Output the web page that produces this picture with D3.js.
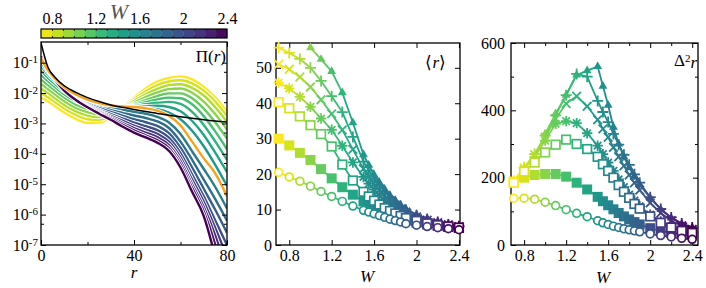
<!DOCTYPE html>
<html>
<head>
<meta charset="utf-8">
<script src="https://cdn.jsdelivr.net/npm/d3@7"></script>
<style>
  html, body { margin: 0; padding: 0; background: #fff; }
</style>
</head>
<body>
<svg id="chart" width="706" height="288"></svg>
<script>
// ---- panel 1: Pi(r) curves, log10 values ----
const piR = [0, 3, 6, 10, 15, 20, 25, 30, 35, 40, 45, 50, 55, 60, 65, 70, 75, 80];
const piW = [0.7, 0.8, 0.9, 1.0, 1.1, 1.2, 1.3, 1.4, 1.5, 1.6, 1.7, 1.8, 1.9, 2.0, 2.1, 2.2, 2.3, 2.4];
const piLog = [
  [-2.15, -2.27, -2.43, -2.64, -2.85, -2.98, -2.97, -2.8, -2.5, -2.15, -1.85, -1.62, -1.5, -1.45, -1.55, -1.8, -2.15, -2.62],
  [-2.0, -2.14, -2.3, -2.51, -2.72, -2.86, -2.88, -2.75, -2.5, -2.2, -1.94, -1.74, -1.62, -1.58, -1.68, -1.92, -2.28, -2.75],
  [-1.85, -2.0, -2.17, -2.39, -2.6, -2.74, -2.79, -2.7, -2.5, -2.26, -2.04, -1.86, -1.74, -1.71, -1.83, -2.08, -2.47, -2.95],
  [-1.7, -1.87, -2.04, -2.27, -2.49, -2.63, -2.7, -2.66, -2.51, -2.32, -2.13, -1.98, -1.87, -1.85, -1.99, -2.28, -2.7, -3.2],
  [-1.55, -1.74, -1.92, -2.15, -2.38, -2.52, -2.6, -2.6, -2.51, -2.37, -2.23, -2.1, -2.01, -2.01, -2.17, -2.51, -2.97, -3.5],
  [-1.4, -1.61, -1.8, -2.04, -2.27, -2.42, -2.51, -2.54, -2.49, -2.4, -2.3, -2.21, -2.15, -2.17, -2.37, -2.76, -3.27, -3.85],
  [-1.25, -1.5, -1.7, -1.95, -2.18, -2.33, -2.43, -2.48, -2.47, -2.43, -2.37, -2.32, -2.29, -2.36, -2.62, -3.05, -3.6, -4.2],
  [-1.1, -1.39, -1.61, -1.87, -2.1, -2.26, -2.37, -2.43, -2.45, -2.45, -2.43, -2.42, -2.46, -2.6, -2.92, -3.38, -3.97, -4.6],
  [-0.98, -1.31, -1.55, -1.83, -2.06, -2.23, -2.34, -2.42, -2.45, -2.47, -2.49, -2.53, -2.64, -2.86, -3.24, -3.75, -4.37, -5.05],
  [-0.85, -1.25, -1.52, -1.8, -2.05, -2.22, -2.33, -2.4, -2.44, -2.46, -2.5, -2.58, -2.75, -3.07, -3.6, -4.15, -4.65, -5.4],
  [-0.82, -1.24, -1.53, -1.84, -2.1, -2.28, -2.4, -2.48, -2.55, -2.62, -2.68, -2.78, -2.97, -3.35, -3.92, -4.5, -5.1, -5.8],
  [-0.82, -1.24, -1.54, -1.86, -2.13, -2.32, -2.46, -2.56, -2.65, -2.74, -2.82, -2.93, -3.15, -3.6, -4.2, -4.85, -5.5, -6.2],
  [-0.81, -1.24, -1.54, -1.87, -2.15, -2.35, -2.5, -2.62, -2.74, -2.86, -2.96, -3.08, -3.32, -3.8, -4.45, -5.15, -5.85, -6.6],
  [-0.81, -1.24, -1.55, -1.88, -2.17, -2.38, -2.55, -2.69, -2.83, -2.97, -3.09, -3.22, -3.47, -3.98, -4.68, -5.4, -6.2, -7.0],
  [-0.8, -1.24, -1.55, -1.89, -2.19, -2.41, -2.59, -2.75, -2.91, -3.07, -3.2, -3.34, -3.6, -4.12, -4.85, -5.58, -6.45, -7.4],
  [-0.8, -1.24, -1.55, -1.9, -2.2, -2.43, -2.62, -2.8, -2.98, -3.15, -3.3, -3.45, -3.71, -4.24, -5.0, -5.75, -6.7, -7.9],
  [-0.8, -1.24, -1.56, -1.91, -2.22, -2.45, -2.65, -2.84, -3.04, -3.23, -3.39, -3.55, -3.81, -4.35, -5.12, -5.9, -7.0, -8.5],
  [-0.8, -1.25, -1.56, -1.92, -2.23, -2.47, -2.68, -2.88, -3.1, -3.3, -3.46, -3.63, -3.9, -4.45, -5.25, -6.05, -7.4, -9.0]
];
const piHighlightW = 1.6;
const piBlackLog = [-0.35, -1.15, -1.48, -1.76, -1.98, -2.15, -2.28, -2.39, -2.47, -2.54, -2.61, -2.67, -2.73, -2.78, -2.83, -2.88, -2.92, -2.95];
const piDecades = [-7, -6, -5, -4, -3, -2, -1];

// ---- panels 2 and 3: <r> and variance vs W ----
const wGrid = [0.7, 0.8, 0.9, 1.0, 1.1, 1.2, 1.3, 1.4, 1.5, 1.55, 1.6, 1.65, 1.7, 1.75, 1.8, 1.85, 1.9, 2.0, 2.1, 2.2, 2.3, 2.4];

const meanTri    = [null, null, null, 55.7, 52.4, 49, 43, 34.5, 25.5, 22.5, 19.8, 17.6, 15.7, 14, 12.6, 11.3, 10.2, 8.6, 7.5, 6.6, 5.9, 5.4];
const meanPlus   = [55.7, 54.2, 52.5, 50, 46.3, 42, 37.5, 30.5, 23.5, 21, 18.8, 16.8, 15, 13.4, 12, 10.9, 9.9, 8.4, 7.3, 6.5, 5.8, 5.3];
const meanCross  = [51, 49.6, 47.4, 44.6, 41, 37, 32.5, 27, 21.5, 19.3, 17.3, 15.5, 13.9, 12.5, 11.3, 10.2, 9.3, 7.9, 7.0, 6.3, 5.7, 5.2];
const meanStar   = [45.8, 44.2, 41.8, 39, 35.7, 32.5, 28, 23.3, 19.2, 17.3, 15.6, 14, 12.6, 11.3, 10.2, 9.3, 8.5, 7.4, 6.6, 6.0, 5.5, 5.1];
const meanOpenSq = [40.3, 38.6, 36.3, 33.8, 31.3, 27.8, 22.7, 18.2, 15, 13.7, 12.5, 11.4, 10.4, 9.6, 8.9, 8.2, 7.6, 6.8, 6.1, 5.6, 5.2, 4.9];
const meanFillSq = [30, 28.1, 26, 24, 21.4, 18.8, 16.3, 14.2, 12.3, 11.4, 10.5, 9.7, 9, 8.4, 7.9, 7.4, 7.0, 6.3, 5.8, 5.4, 5.1, 4.8];
const meanCircle = [20.5, 19.2, 18, 16.6, 15.1, 13.7, 12.3, 11, 9.8, 9.3, 8.8, 8.3, 7.8, 7.3, 6.9, 6.5, 6.0, 5.6, 5.2, 4.9, 4.6, 4.3];

const varTri    = [null, null, null, 330, 390, 445, 505, 518, 530, 472, 415, 350, 300, 262, 230, 205, 180, 140, 106, 80, 63, 52];
const varPlus   = [190, 230, 270, 325, 385, 445, 508, 500, 428, 395, 365, 330, 298, 268, 238, 210, 185, 142, 107, 82, 64, 52];
const varCross  = [190, 228, 268, 320, 375, 420, 442, 412, 372, 345, 320, 290, 262, 235, 208, 185, 163, 125, 95, 72, 57, 46];
const varStar   = [190, 225, 262, 310, 360, 368, 362, 332, 295, 270, 245, 220, 195, 172, 150, 132, 115, 90, 70, 55, 45, 38];
const varOpenSq = [185, 218, 245, 275, 298, 313, 300, 285, 262, 240, 220, 200, 178, 158, 140, 122, 108, 85, 66, 52, 42, 36];
const varFillSq = [188, 200, 208, 211, 211, 203, 185, 165, 143, 130, 118, 106, 95, 85, 76, 68, 61, 50, 42, 36, 32, 29];
const varCircle = [139, 139, 136, 127, 117, 105, 94, 84, 72, 66, 61, 56, 52, 48, 45, 42, 39, 33, 28, 24, 20, 17];

const wTicks = [0.8, 1.2, 1.6, 2, 2.4];

const FONT = 'Liberation Serif';
const svg = d3.select('#chart');
const color = d3.scaleSequential(d3.interpolateViridis).domain([2.4, 0.7]);
const orange = '#f7a21b';

// frame with inward ticks on all four sides
function drawFrame(g, x, y, o) {
    const [xa, xb] = x.range();
    const [yb, ya] = y.range();
    const style = (sel) => {
        sel.select('.domain').remove();
        sel.attr('font-size', 16);
        sel.selectAll('line').attr('stroke', '#000').attr('stroke-width', 1);
    };
    g.append('g').attr('transform', `translate(0,${yb})`)
        .call(d3.axisBottom(x).tickValues(o.xTicks).tickFormat(o.xFmt).tickSizeInner(-5).tickSizeOuter(0).tickPadding(5)).call(style);
    g.append('g').attr('transform', `translate(0,${ya})`)
        .call(d3.axisTop(x).tickValues(o.xTicks).tickFormat('').tickSizeInner(-5).tickSizeOuter(0)).call(style);
    const left = g.append('g').attr('transform', `translate(${xa},0)`)
        .call(d3.axisLeft(y).tickValues(o.yTicks).tickFormat(o.yFmt).tickSizeInner(-5).tickSizeOuter(0).tickPadding(o.yPad)).call(style);
    g.append('g').attr('transform', `translate(${xb},0)`)
        .call(d3.axisRight(y).tickValues(o.yTicks).tickFormat('').tickSizeInner(-5).tickSizeOuter(0)).call(style);
    if (o.xMinor) {
        g.append('g').attr('transform', `translate(0,${yb})`)
            .call(d3.axisBottom(x).tickValues(o.xMinor).tickFormat('').tickSizeInner(-3).tickSizeOuter(0)).call(style);
        g.append('g').attr('transform', `translate(0,${ya})`)
            .call(d3.axisTop(x).tickValues(o.xMinor).tickFormat('').tickSizeInner(-3).tickSizeOuter(0)).call(style);
    }
    if (o.yMinor) {
        g.append('g').attr('transform', `translate(${xa},0)`)
            .call(d3.axisLeft(y).tickValues(o.yMinor).tickFormat('').tickSizeInner(-3).tickSizeOuter(0)).call(style);
        g.append('g').attr('transform', `translate(${xb},0)`)
            .call(d3.axisRight(y).tickValues(o.yMinor).tickFormat('').tickSizeInner(-3).tickSizeOuter(0)).call(style);
    }
    g.append('rect')
        .attr('x', xa).attr('y', ya).attr('width', xb - xa).attr('height', yb - ya)
        .attr('fill', 'none').attr('stroke', '#000').attr('stroke-width', 1.3);
    return left;
}

// ---------------- panel 1 ----------------
const x1 = d3.scaleLinear().domain([0, 80]).range([41, 227]);
const y1 = d3.scaleLog().domain([1e-7, Math.pow(10, -0.32)]).range([245, 42]);

svg.append('clipPath').attr('id', 'clip1')
    .append('rect').attr('x', 41).attr('y', 42).attr('width', 186).attr('height', 203);

const p1 = svg.append('g');
const curves = p1.append('g').attr('clip-path', 'url(#clip1)');
const piLine = d3.line()
    .x((d, i) => x1(piR[i]))
    .y((d) => y1(Math.pow(10, d)))
    .curve(d3.curveMonotoneX);

piW.forEach((w, k) => {
    if (w === piHighlightW) return;
    curves.append('path').attr('d', piLine(piLog[k]))
        .attr('fill', 'none').attr('stroke', '#fff').attr('stroke-width', 4.2);
    curves.append('path').attr('d', piLine(piLog[k]))
        .attr('fill', 'none').attr('stroke', color(w)).attr('stroke-width', 2.4);
});
const hk = piW.indexOf(piHighlightW);
curves.append('path').attr('d', piLine(piLog[hk]))
    .attr('fill', 'none').attr('stroke', '#fff').attr('stroke-width', 4.2);
curves.append('path').attr('d', piLine(piLog[hk]))
    .attr('fill', 'none').attr('stroke', orange).attr('stroke-width', 2.4);
curves.append('path').attr('d', piLine(piBlackLog))
    .attr('fill', 'none').attr('stroke', '#000').attr('stroke-width', 1.5);

const p1left = drawFrame(p1, x1, y1, {
    xTicks: [0, 40, 80], xFmt: d3.format('d'), xMinor: [20, 60],
    yTicks: piDecades.map((e) => Math.pow(10, e)), yFmt: () => '', yPad: 3,
    yMinor: piDecades.slice(0, 6).map((e) => 5 * Math.pow(10, e))
});
p1left.selectAll('.tick text').each(function (d) {
    const t = d3.select(this);
    t.append('tspan').text('10');
    t.append('tspan').attr('dy', '-0.45em').attr('font-size', 11).text(String(Math.round(Math.log10(d))));
});

p1.append('text').attr('x', 226).attr('y', 62).attr('text-anchor', 'end').attr('font-size', 17)
    .html('Π(<tspan font-style="italic">r</tspan>)');
p1.append('text').attr('x', 134).attr('y', 278).attr('text-anchor', 'middle')
    .attr('font-size', 17).attr('font-style', 'italic').text('r');

// colorbar
const cbX = d3.scaleLinear().domain([0.7, 2.4]).range([41, 227]);
const cb = svg.append('g');
const cbBlocks = piW.slice(0, piW.length - 1);
cb.selectAll('rect').data(cbBlocks).join('rect')
    .attr('x', (w) => cbX(w)).attr('y', 29)
    .attr('width', (w) => cbX(w + 0.1) - cbX(w) + 0.3).attr('height', 9)
    .attr('fill', (w) => color(w + 0.05));
const cbStyle = (sel) => {
    sel.select('.domain').remove();
    sel.attr('font-size', 16);
    sel.selectAll('line').attr('stroke', '#222').attr('stroke-width', 1);
};
cb.append('g').attr('transform', 'translate(0,29)')
    .call(d3.axisTop(cbX).tickValues(piW.slice(1, piW.length - 1)).tickFormat('').tickSizeInner(-2).tickSizeOuter(0)).call(cbStyle);
cb.append('g').attr('transform', 'translate(0,38)')
    .call(d3.axisBottom(cbX).tickValues(piW.slice(1, piW.length - 1)).tickFormat('').tickSizeInner(-2).tickSizeOuter(0)).call(cbStyle);
cb.append('g').attr('transform', 'translate(0,29)')
    .call(d3.axisTop(cbX).tickValues(wTicks).tickFormat(d3.format('')).tickSize(0).tickPadding(5)).call(cbStyle);
cb.append('rect').attr('x', 41).attr('y', 29).attr('width', 186).attr('height', 9)
    .attr('fill', 'none').attr('stroke', '#000').attr('stroke-width', 1.2);
cb.append('text').attr('x', 119).attr('y', 19).attr('text-anchor', 'middle')
    .attr('font-size', 22).attr('font-style', 'italic').attr('fill', '#555').text('W');

// ---------------- markers ----------------
function drawMarkers(sel, shape) {
    const c = (d) => color(d.w);
    if (shape === 'circle') {
        sel.append('circle').attr('r', 3.9).attr('fill', '#fff').attr('stroke', c).attr('stroke-width', 1.7);
    } else if (shape === 'openSquare') {
        sel.append('rect').attr('x', -4.3).attr('y', -4.3).attr('width', 8.6).attr('height', 8.6)
            .attr('fill', '#fff').attr('stroke', c).attr('stroke-width', 1.7);
    } else if (shape === 'fillSquare') {
        sel.append('rect').attr('x', -5).attr('y', -5).attr('width', 10).attr('height', 10).attr('fill', c);
    } else if (shape === 'triangle') {
        sel.append('path').attr('d', d3.symbol(d3.symbolTriangle, 34)).attr('fill', c);
    } else {
        const paths = {
            plus: 'M-5.5,0H5.5M0,-5.5V5.5',
            cross: 'M-4.3,-4.3L4.3,4.3M-4.3,4.3L4.3,-4.3',
            star: 'M-5.2,0H5.2M0,-5.2V5.2M-3.7,-3.7L3.7,3.7M-3.7,3.7L3.7,-3.7'
        };
        sel.append('path').attr('d', paths[shape]).attr('fill', 'none')
            .attr('stroke', c).attr('stroke-width', 1.8);
    }
}

function drawSeries(g, x, y, values, shape) {
    const pts = wGrid.map((w, i) => ({ w, v: values[i] })).filter((d) => d.v != null);
    const s = g.append('g');
    s.selectAll('line').data(d3.pairs(pts)).join('line')
        .attr('x1', (d) => x(d[0].w)).attr('y1', (d) => y(d[0].v))
        .attr('x2', (d) => x(d[1].w)).attr('y2', (d) => y(d[1].v))
        .attr('stroke', (d) => color((d[0].w + d[1].w) / 2))
        .attr('stroke-width', 1.8).attr('stroke-linecap', 'round');
    const m = s.selectAll('g').data(pts).join('g')
        .attr('transform', (d) => `translate(${x(d.w)},${y(d.v)})`);
    drawMarkers(m, shape);
}

// ---------------- panel 2 ----------------
const x2 = d3.scaleLinear().domain([0.675, 2.41]).range([276, 460]);
const y2 = d3.scaleLinear().domain([0, 57]).range([245, 43]);
const p2 = svg.append('g');
drawFrame(p2, x2, y2, {
    xTicks: wTicks, xFmt: d3.format(''),
    yTicks: [0, 10, 20, 30, 40, 50], yFmt: d3.format('d'), yPad: 4
});
[[meanTri, 'triangle'], [meanPlus, 'plus'], [meanCross, 'cross'], [meanStar, 'star'],
 [meanFillSq, 'fillSquare'], [meanOpenSq, 'openSquare'], [meanCircle, 'circle']]
    .forEach(([vals, shape]) => drawSeries(p2, x2, y2, vals, shape));
p2.append('text').attr('x', 446).attr('y', 68).attr('text-anchor', 'end').attr('font-size', 17)
    .html('⟨<tspan font-style="italic">r</tspan>⟩');
p2.append('text').attr('x', 367).attr('y', 282).attr('text-anchor', 'middle')
    .attr('font-size', 17).attr('font-style', 'italic').text('W');

// ---------------- panel 3 ----------------
const x3 = d3.scaleLinear().domain([0.675, 2.455]).range([511, 698]);
const y3 = d3.scaleLinear().domain([0, 600]).range([245, 43]);
const p3 = svg.append('g');
drawFrame(p3, x3, y3, {
    xTicks: wTicks, xFmt: d3.format(''), xMinor: [1.0, 1.4, 1.8, 2.2],
    yTicks: [0, 200, 400, 600], yFmt: d3.format('d'), yPad: 6,
    yMinor: [100, 300, 500]
});
[[varTri, 'triangle'], [varPlus, 'plus'], [varCross, 'cross'], [varStar, 'star'],
 [varFillSq, 'fillSquare'], [varOpenSq, 'openSquare'], [varCircle, 'circle']]
    .forEach(([vals, shape]) => drawSeries(p3, x3, y3, vals, shape));
p3.append('text').attr('x', 697).attr('y', 66).attr('text-anchor', 'end').attr('font-size', 17)
    .html('Δ<tspan dy="-0.4em" font-size="11">2</tspan><tspan dy="0.4em" font-style="italic">r</tspan>');
p3.append('text').attr('x', 603).attr('y', 283).attr('text-anchor', 'middle')
    .attr('font-size', 17).attr('font-style', 'italic').text('W');

// serif face everywhere (set as style so it wins over axis defaults)
svg.selectAll('text').style('font-family', FONT);
</script>
</body>
</html>
